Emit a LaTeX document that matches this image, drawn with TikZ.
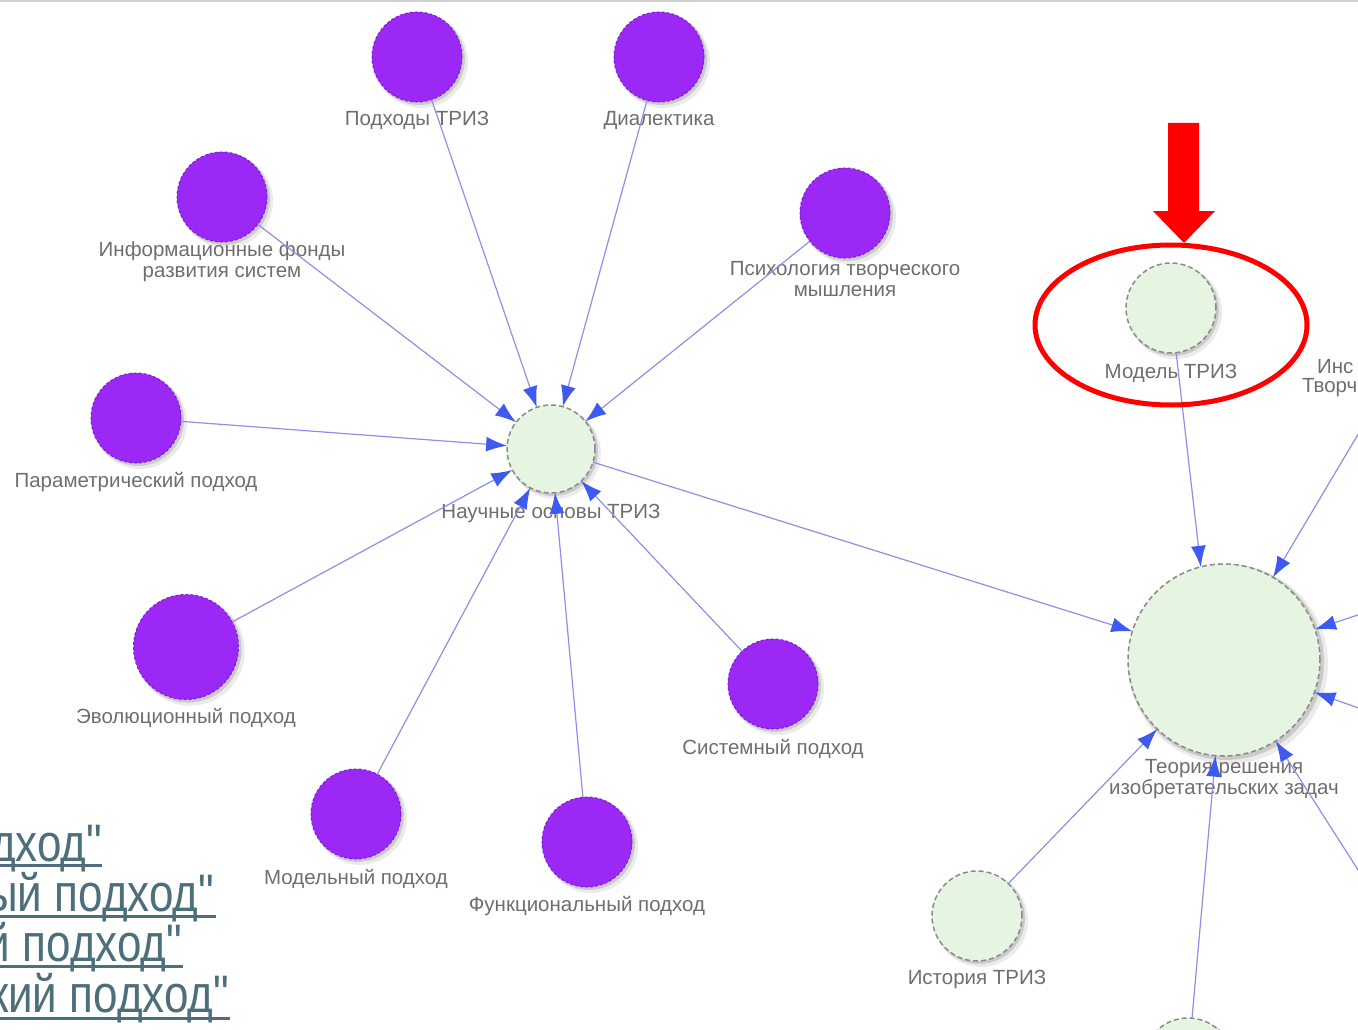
\documentclass[tikz,border=0pt]{standalone}
\usepackage{fontspec}
\setmainfont{Liberation Sans}
\usetikzlibrary{arrows.meta,shapes.geometric,shadows}

\definecolor{nodepurple}{HTML}{9B28F5}
\definecolor{purpleedge}{HTML}{7A1FCC}
\definecolor{nodegreen}{HTML}{E6F5E1}
\definecolor{greenedge}{HTML}{8A8A8A}
\definecolor{linkline}{HTML}{8C90E6}
\definecolor{arrowblue}{HTML}{3F5BEF}
\definecolor{labelgray}{HTML}{6E6E6E}
\definecolor{linkteal}{HTML}{4D6F7B}
\definecolor{topgray}{HTML}{D0D0D0}

% straight ASCII double quote, set as a glyph so no ligature mapping applies
\newcommand\straightquote{\XeTeXglyph\XeTeXcharglyph"0022 }

\begin{document}
\begin{tikzpicture}[x=1pt,y=-1pt,
  every node/.style={inner sep=0pt, outer sep=0pt},
  softshadow/.style={
    drop shadow={shadow xshift=2pt, shadow yshift=-2pt, shadow scale=1.02, opacity=0.14, fill=black},
    drop shadow={shadow xshift=4pt, shadow yshift=-4pt, shadow scale=1.04, opacity=0.08, fill=black}},
  purplenode/.style={circle, fill=nodepurple, draw=purpleedge, dash pattern=on 3pt off 2pt,
    line width=1pt, minimum size=90pt, softshadow},
  greennode/.style={circle, fill=nodegreen, draw=greenedge, dash pattern=on 5pt off 3pt,
    line width=1.5pt, minimum size=90pt, softshadow},
  lbl/.style={text=labelgray, font=\fontsize{20.5}{21}\selectfont, align=center},
  link/.style={draw=linkline, line width=1.2pt,
    -{Latex[length=21pt,width=15pt,color=arrowblue]}},
  ulink/.style={text=linkteal, font=\fontsize{44}{50}\selectfont, anchor=base east},
  uline/.style={draw=linkteal, line width=3pt},
  redring/.style={draw=red, line width=5pt}
]
\useasboundingbox (0,0) rectangle (1358,1030);
\clip (0,0) rectangle (1358,1030);

% top frame line
\draw[draw=topgray, line width=2pt] (0,1) -- (1358,1);

% nodes
\node[purplenode] (pt)  at (417,57)  {};
\node[purplenode] (dia) at (659,57)  {};
\node[purplenode] (inf) at (222,197) {};
\node[purplenode] (psy) at (845,213) {};
\node[purplenode] (par) at (136,418) {};
\node[purplenode, minimum size=105pt] (evo) at (186,647) {};
\node[purplenode] (sys) at (773,684) {};
\node[purplenode] (mdl) at (356,814) {};
\node[purplenode] (fun) at (587,842) {};
\node[greennode, minimum size=88pt] (nau) at (551,449) {};
\node[greennode] (mod) at (1171,308) {};
\node[greennode, minimum size=192pt] (teo) at (1224,660) {};
\node[greennode] (ist) at (977,916) {};
\node[greennode] (bot) at (1188,1063) {};

% off-canvas sources on the right
\coordinate (c1) at (1420,330);
\coordinate (c2) at (1420,594);
\coordinate (c3) at (1420,730);
\coordinate (c4) at (1420,967);

% labels
\node[lbl] (lpt)  at (417,120) {Подходы ТРИЗ};
\node[lbl] (ldia) at (659,120) {Диалектика};
\node[lbl] (linf) at (222,262) {Информационные фонды\\развития систем};
\node[lbl] (lpsy) at (845,279) {Психология творческого\\мышления};
\node[lbl] (lpar) at (136,482) {Параметрический подход};
\node[lbl] (lnau) at (551,513) {Научные основы ТРИЗ};
\node[lbl] (levo) at (186,718) {Эволюционный подход};
\node[lbl] (lsys) at (773,749) {Системный подход};
\node[lbl] (lmdl) at (356,879) {Модельный подход};
\node[lbl] (lfun) at (587,906) {Функциональный подход};
\node[lbl] (lmod) at (1171,373) {Модель ТРИЗ};
\node[lbl] (lteo) at (1224,779) {Теория решения\\изобретательских задач};
\node[lbl] (list) at (977,979) {История ТРИЗ};
\node[lbl, anchor=west] (lins1) at (1317,367) {Инс};
\node[lbl, anchor=west] (lins2) at (1302,388) {Творч};

% connectors
\draw[link] (pt)  -- (nau);
\draw[link] (dia) -- (nau);
\draw[link] (inf) -- (nau);
\draw[link] (psy) -- (nau);
\draw[link] (par) -- (nau);
\draw[link] (evo) -- (nau);
\draw[link] (mdl) -- (nau);
\draw[link] (fun) -- (nau);
\draw[link] (sys) -- (nau);
\draw[link] (nau) -- (teo);
\draw[link] (mod) -- (teo.104);
\draw[link] (c1)  -- (teo);
\draw[link] (c2)  -- (teo);
\draw[link] (c3)  -- (teo);
\draw[link] (c4)  -- (teo);
\draw[link] (ist) -- (teo);
\draw[link] (bot) -- (teo);

% highlight ellipse and pointer arrow
\node[redring, ellipse, minimum width=272pt, minimum height=160pt] (hl) at (1171,325) {};
\fill[red] (1168,123) -- (1199,123) -- (1199,211) -- (1215,211) -- (1184,243)
  -- (1153,211) -- (1168,211) -- cycle;

% underlined link text at the lower left
\node[ulink] (u1) at (102,861)  {\scalebox{1}[1.2]{дход\straightquote}};
\node[ulink] (u2) at (214,911)  {\scalebox{1}[1.2]{ый подход\straightquote}};
\node[ulink] (u3) at (182,961)  {\scalebox{1}[1.2]{й подход\straightquote}};
\node[ulink] (u4) at (229,1012) {\scalebox{1}[1.2]{кий подход\straightquote}};
\draw[uline] (0,865)  -- (102,865);
\draw[uline] (0,916)  -- (216,916);
\draw[uline] (0,966)  -- (183,966);
\draw[uline] (0,1018) -- (230,1018);
\end{tikzpicture}
\end{document}
